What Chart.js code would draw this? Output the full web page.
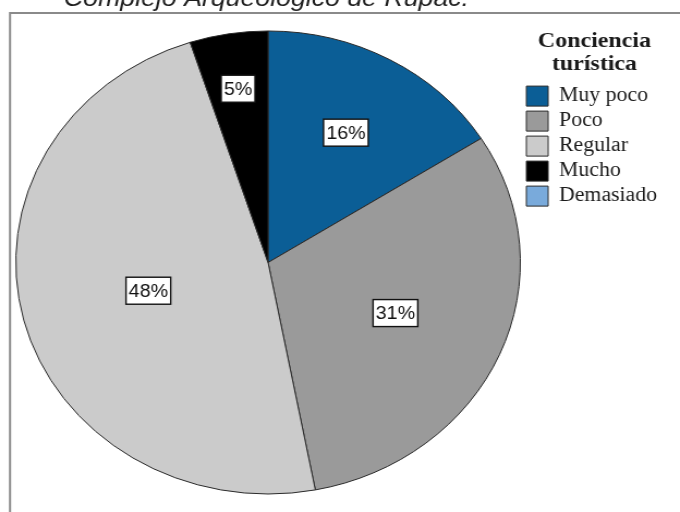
<!DOCTYPE html>
<html>
<head>
<meta charset="utf-8">
<script src="https://cdn.jsdelivr.net/npm/chart.js@4/dist/chart.umd.min.js"></script>
<style>
  html, body { margin: 0; padding: 0; background: #fff; overflow: hidden; }
  #wrap {
    position: absolute; left: 0; top: 0;
    width: 624px; height: 512px;
    transform: scaleX(1.0897); transform-origin: 0 0;
  }
</style>
</head>
<body>
<div id="wrap"><canvas id="pieChart"></canvas></div>
<script>
"use strict";
const chartTitle = "Complejo Arqueológico de Rupac.";
const legendTitle = ["Conciencia", "turística"];
const categories = ["Muy poco", "Poco", "Regular", "Mucho", "Demasiado"];
const percents = [16, 31, 48, 5, 0];
const sliceColors = ["#0b5e96", "#9a9a9a", "#cbcbcb", "#000000", "#79aadb"];

// how far out each % box sits, as a share of the radius
const labelRadius = [0.64, 0.55, 0.49, 0.76, 0.6];

const framePlugin = {
  id: "frame",
  beforeDraw(chart) {
    const ctx = chart.ctx;
    ctx.save();
    ctx.strokeStyle = "#8a8a8a";
    ctx.lineWidth = 2;
    ctx.beginPath();
    ctx.moveTo(9.2, 512);
    ctx.lineTo(9.2, 13);
    ctx.lineTo(chart.width, 13);
    ctx.stroke();
    ctx.restore();
  },
  afterDraw(chart) {
    const ctx = chart.ctx;
    const area = chart.chartArea;
    ctx.save();
    ctx.font = "italic 24.5px 'Liberation Sans', Arial, sans-serif";
    ctx.fillStyle = "#1e1e1e";
    ctx.textAlign = "center";
    ctx.textBaseline = "alphabetic";
    ctx.fillText(chartTitle, (area.left + area.right) / 2 - 1.5, 6);
    ctx.restore();
  },
};

const percentLabels = {
  id: "percentLabels",
  afterDatasetsDraw(chart) {
    const ctx = chart.ctx;
    const meta = chart.getDatasetMeta(0);
    ctx.save();
    ctx.font = "18px 'Liberation Sans', Arial, sans-serif";
    ctx.textAlign = "center";
    ctx.textBaseline = "middle";
    meta.data.forEach((arc, i) => {
      const v = percents[i];
      if (!v) return;
      const { x, y, startAngle, endAngle, outerRadius } = arc.getProps(
        ["x", "y", "startAngle", "endAngle", "outerRadius"], true);
      const mid = (startAngle + endAngle) / 2;
      const r = outerRadius * labelRadius[i];
      const lx = x + Math.cos(mid) * r;
      const ly = y + Math.sin(mid) * r;
      const text = `${v}%`;
      const w = ctx.measureText(text).width + 5;
      const h = 27;
      ctx.fillStyle = "#ffffff";
      ctx.fillRect(lx - w / 2, ly - h / 2, w, h);
      ctx.strokeStyle = "#111111";
      ctx.lineWidth = 1.4;
      ctx.strokeRect(lx - w / 2, ly - h / 2, w, h);
      ctx.fillStyle = "#111111";
      ctx.fillText(text, lx, ly + 1);
    });
    ctx.restore();
  },
};

const data = {
  labels: categories,
  datasets: [
    {
      data: percents,
      backgroundColor: sliceColors,
      borderColor: "#2a2a2a",
      borderWidth: 1,
    },
  ],
};

const config = {
  type: "pie",
  data: data,
  options: {
    responsive: true,
    maintainAspectRatio: false,
    animation: false,
    layout: {
      padding: { left: 14, top: 30, bottom: 17, right: 11 },
    },
    plugins: {
      tooltip: { enabled: false },
      legend: {
        display: true,
        position: "right",
        align: "start",
        title: {
          display: true,
          text: legendTitle,
          color: "#1a1a1a",
          font: { family: "'Liberation Serif', 'Times New Roman', serif", size: 22, weight: "bold", lineHeight: 1.05 },
          padding: { top: 0, bottom: 28 },
        },
        labels: {
          color: "#1a1a1a",
          boxWidth: 20,
          boxHeight: 20,
          padding: 5,
          font: { family: "'Liberation Serif', 'Times New Roman', serif", size: 20 },
        },
      },
    },
  },
  plugins: [framePlugin, percentLabels],
};

const myChart = new Chart(document.getElementById("pieChart"), config);
</script>
</body>
</html>
